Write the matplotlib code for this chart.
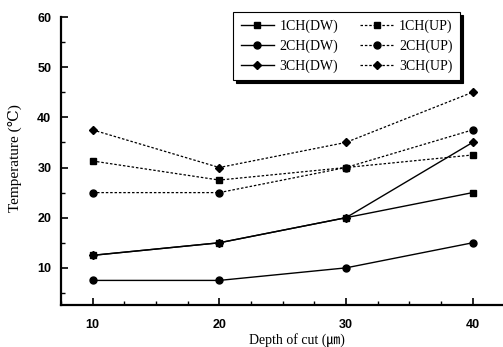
import matplotlib
matplotlib.use("Agg")
import matplotlib.pyplot as plt
from matplotlib.ticker import MultipleLocator

depth = [10, 20, 30, 40]
ch1_dw = [12.5, 15, 20, 25]
ch1_up = [31.3, 27.5, 30, 32.5]
ch2_dw = [7.5, 7.5, 10, 15]
ch2_up = [25, 25, 30, 37.5]
ch3_dw = [12.5, 15, 20, 35]
ch3_up = [37.5, 30, 35, 45]
x_ticks = [10, 20, 30, 40]
y_ticks = [10, 20, 30, 40, 50, 60]

plt.rcParams['font.family'] = ['Liberation Sans']
plt.rcParams['font.weight'] = 'bold'

fig = plt.figure(figsize=(5.03, 3.47), dpi=100)
ax = fig.add_axes([61/503, 1-305/347, 442/503, 288/347])

solid = dict(color='black', lw=1.0, linestyle='-', markersize=5)
dot = dict(color='black', lw=0.9, linestyle=(0, (2, 1.5)), markersize=5)

h1, = ax.plot(depth, ch1_dw, marker='s', label='1CH(DW)', **solid)
h2, = ax.plot(depth, ch2_dw, marker='o', label='2CH(DW)', **solid)
h3, = ax.plot(depth, ch3_dw, marker='D', label='3CH(DW)', **dict(solid, markersize=4.5))
h4, = ax.plot(depth, ch1_up, marker='s', label='1CH(UP)', **dot)
h5, = ax.plot(depth, ch2_up, marker='o', label='2CH(UP)', **dot)
h6, = ax.plot(depth, ch3_up, marker='D', label='3CH(UP)', **dict(dot, markersize=4.5))

ax.set_xlim(7.5, 42.4)
ax.set_ylim(2.6, 60)
ax.set_xticks(x_ticks)
ax.set_yticks(y_ticks)
ax.xaxis.set_minor_locator(MultipleLocator(2.5))
ax.yaxis.set_minor_locator(MultipleLocator(5))
ax.tick_params(which='major', direction='in', length=5, width=1.2, colors='black',
               labelsize=9)
ax.tick_params(which='minor', direction='in', length=3, width=1.0)
ax.tick_params(axis='x', which='major', pad=10)
ax.tick_params(axis='y', which='major', pad=7)

for s in ['top', 'right']:
    ax.spines[s].set_visible(False)
for s in ['left', 'bottom']:
    ax.spines[s].set_linewidth(1.6)

fam = ['Liberation Serif', 'DejaVu Serif', 'Noto Sans CJK JP']
ax.set_xlabel('Depth of cut (\u339b)', family=fam, fontsize=10, fontweight='normal')
ax.xaxis.set_label_coords(0.534, -0.098)
ax.set_ylabel('Temperature (\u2103)', family=fam, fontsize=11, fontweight='normal')
ax.yaxis.set_label_coords(-0.088, 0.51)

leg = ax.legend(handles=[h1, h2, h3, h4, h5, h6], ncol=2,
                loc='upper left', bbox_to_anchor=(0.389, 1.017, 0.514, 0.0),
                mode='expand', fancybox=False, shadow={'color': 'black', 'alpha': 1},
                edgecolor='black', framealpha=1, borderaxespad=0,
                prop={'family': 'Liberation Serif', 'size': 10, 'weight': 'normal'},
                handlelength=2.4, handletextpad=0.4, columnspacing=0.6,
                labelspacing=0.45, borderpad=0.55)
leg.get_frame().set_linewidth(0.8)

fig.savefig('out.png', dpi=100)
